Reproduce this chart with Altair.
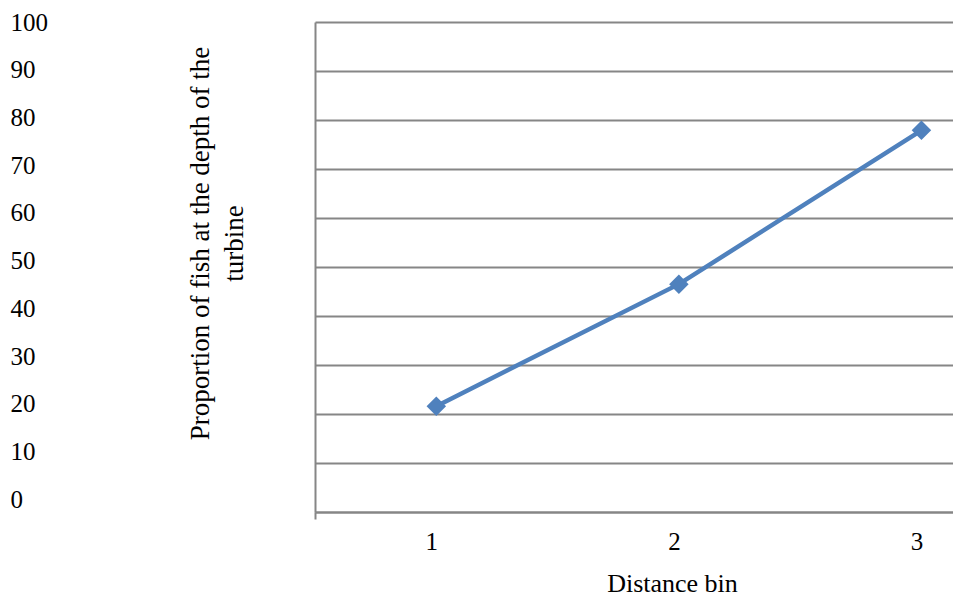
import altair as alt
import pandas as pd

# Data
distance_bin = [1, 2, 3]
proportion = [21.6, 46.5, 77.9]
y_ticks = [0, 10, 20, 30, 40, 50, 60, 70, 80, 90, 100]
x_ticks = [1, 2, 3]

df = pd.DataFrame({"bin": distance_bin, "prop": proportion})

FONT = "Liberation Serif"
GRID = "#868686"
BLUE = "#4F81BD"

x_enc = alt.X(
    "bin:Q",
    scale=alt.Scale(domain=[0.5, 3.13], nice=False, zero=False),
    axis=alt.Axis(
        values=[0.5] + x_ticks,
        labelExpr="datum.value == 0.5 ? '' : format(datum.value, 'd')",
        tickOpacity={"condition": {"test": "datum.value == 0.5", "value": 1}, "value": 0},
        tickSize=7,
        tickWidth=2,
        tickColor=GRID,
        domainColor=GRID,
        domainWidth=2,
        grid=False,
        labelFont=FONT,
        labelFontSize=25,
        labelColor="black",
        labelPadding=10,
        labelOffset=-5,
        labelBaseline="top",
        labelFlush=False,
        labelOverlap=False,
        title="Distance bin",
        titleFont=FONT,
        titleFontSize=26,
        titleFontWeight="normal",
        titleColor="black",
        titleX=357,
        titleY=79,
        titleBaseline="alphabetic",
        titleAlign="center",
    ),
)

# Series line with diamond markers, plus gridlines and the framed left axis
line = alt.Chart(df).mark_line(
    color=BLUE,
    strokeWidth=4.5,
    point=alt.OverlayMarkDef(shape="diamond", size=380, filled=True, color=BLUE, opacity=1),
).encode(
    x=x_enc,
    y=alt.Y(
        "prop:Q",
        scale=alt.Scale(domain=[0, 100], nice=False),
        axis=alt.Axis(
            values=y_ticks,
            labels=False,
            ticks=False,
            grid=True,
            gridColor=GRID,
            gridWidth=2,
            domainColor=GRID,
            domainWidth=2,
            title=["Proportion of fish at the depth of the", "turbine"],
            titleFont=FONT,
            titleFontSize=27,
            titleFontWeight="normal",
            titleColor="black",
            titleAngle=270,
            titleAlign="center",
            titleBaseline="alphabetic",
            titleLineHeight=34,
            titleX=-107,
            titleY=221,
        ),
    ),
)

# Tick-label column on the far left
labels = alt.Chart(df).mark_point(opacity=0).encode(
    y=alt.Y(
        "prop:Q",
        scale=alt.Scale(domain=[-2.65, 100], nice=False, zero=False),
        axis=alt.Axis(
            orient="left",
            values=y_ticks,
            ticks=False,
            domain=False,
            grid=False,
            title=None,
            labelFont=FONT,
            labelFontSize=25,
            labelColor="black",
            labelAlign="left",
            labelBaseline="middle",
            labelPadding=305,
            labelFlush=False,
            labelOverlap=False,
        ),
    ),
)

chart = (
    alt.layer(line, labels)
    .resolve_scale(y="independent")
    .properties(
        width=638,
        height=490,
        autosize=alt.AutoSizeParams(type="none"),
        padding={"left": 315, "top": 22, "right": 0, "bottom": 85},
    )
    .configure_view(stroke=None)
)

chart.save("out.html", embed_options={"renderer": "svg", "actions": False})
